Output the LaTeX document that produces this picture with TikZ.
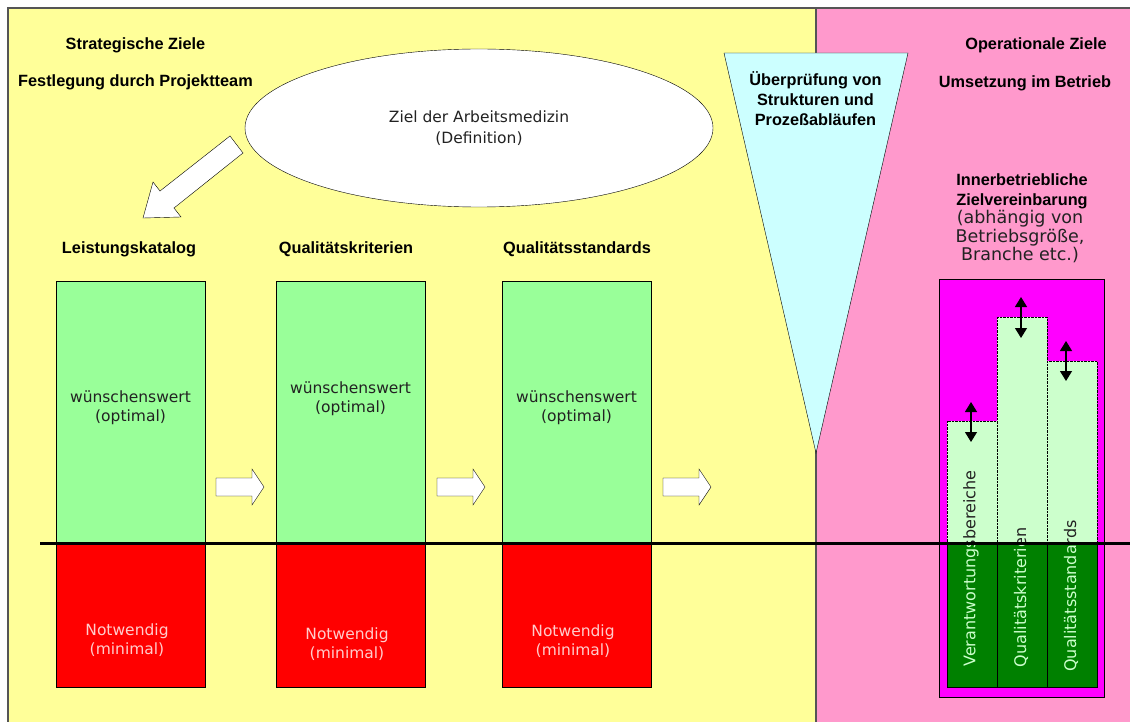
\documentclass[tikz,border=0pt]{standalone}
\usepackage{fontspec}
\setmainfont{DejaVu Sans}
\newfontfamily\headfont{Liberation Sans}
\usetikzlibrary{shapes.geometric}
\usetikzlibrary{arrows.meta}
\definecolor{panelyellow}{HTML}{FFFF99}
\definecolor{panelpink}{HTML}{FF99CC}
\definecolor{optgreen}{HTML}{99FF99}
\definecolor{minred}{HTML}{FF0000}
\definecolor{checkcyan}{HTML}{CCFFFF}
\definecolor{boxmagenta}{HTML}{FF00FF}
\definecolor{palegreen}{HTML}{CCFFCC}
\definecolor{deepgreen}{HTML}{008000}
\definecolor{framegray}{HTML}{555555}
\definecolor{darktext}{HTML}{222222}
\definecolor{pinktext}{HTML}{FFCCCC}
\tikzset{hd/.style = {font=\headfont\bfseries\fontsize{16.3}{20}\selectfont,
                      align=center, inner sep=0}}
\tikzset{txt/.style = {font=\fontsize{15.5}{19}\selectfont, align=center, inner sep=0}}
\tikzset{bigtxt/.style = {font=\fontsize{17.5}{18.5}\selectfont, align=center, inner sep=0}}
\tikzset{rottxt/.style = {font=\fontsize{16}{18}\selectfont, rotate=90, inner sep=0}}
\tikzset{blockarrow/.style = {draw=black, fill=white, line join=miter}}
\tikzset{dblarrow/.style = {{Triangle[width=12pt,length=10pt]}-{Triangle[width=12pt,length=10pt]},
                            line width=1.2pt}}

\begin{document}
\begin{tikzpicture}[x=1pt,y=-1pt]
        \useasboundingbox (0,0) rectangle (1130,722);
        % panels
        \draw[framegray, fill=panelyellow, line width=1.2pt] (8,8) rectangle (816,740);
        \draw[framegray, fill=panelpink, line width=1.2pt] (816,8) rectangle (1150,740);
        \node[hd] (strat) at (135.5,45) {Strategische Ziele};
        \node[hd] (festl) at (135.5,82) {Festlegung durch Projektteam};
        \node[hd] (oper) at (1036,45) {Operationale Ziele};
        \node[hd] (umsetz) at (1025,83) {Umsetzung im Betrieb};
        % definition and arrow down to the catalogue
        \node[draw, fill=white, ellipse, minimum width=468, minimum height=158,
              txt, font=\fontsize{15.5}{21}\selectfont, text=darktext]
              (ziel) at (479,128) {Ziel der Arbeitsmedizin\\(Definition)};
        \draw[blockarrow] (230,136) -- (160,191) -- (153,182) -- (143,218)
                          -- (181,217) -- (174,208) -- (243,153) -- cycle;
        % review triangle
        \draw[black, fill=checkcyan] (724,53) -- (908,53) -- (816,453) -- cycle;
        \node[hd] (pruef) at (815.5,99) {\"Uberpr\"ufung von\\Strukturen und\\Proze\ss abl\"aufen};
        % three columns
        \node[hd] (leist) at (129,249) {Leistungskatalog};
        \node[hd] (qkrit) at (346,249) {Qualit\"atskriterien};
        \node[hd] (qstan) at (577,249) {Qualit\"atsstandards};
        \foreach \xl/\gy/\ry/\nm in {56/408/640/a, 276/399/644/b, 502/408/641/c}{
            \draw[black, fill=optgreen] (\xl,281) rectangle ({\xl+149},543);
            \draw[black, fill=minred] (\xl,543) rectangle ({\xl+149},687);
            \node[txt, text=darktext] (opt\nm) at ({\xl+74.5},\gy) {w\"unschenswert\\(optimal)};
            \node[txt, text=pinktext] (min\nm) at ({\xl+71},\ry) {Notwendig\\(minimal)};
        }
        \foreach \x in {216,437,663}{
            \draw[blockarrow] (\x,478) -- ({\x+36},478) -- ({\x+36},469) -- ({\x+48},487)
                              -- ({\x+36},505) -- ({\x+36},496) -- (\x,496) -- cycle;
        }
        % operational agreement
        \node[hd] (inner) at (1022,191) {Innerbetriebliche\\Zielvereinbarung};
        \node[bigtxt, text=darktext] (abh) at (1020,237) {(abh\"angig von\\Betriebsgr\"o\ss e,\\Branche etc.)};
        \draw[black, fill=boxmagenta] (939,279) rectangle (1104,697);
        \draw[black, fill=palegreen, densely dotted] (947,421) rectangle (997,543);
        \draw[black, fill=palegreen, densely dotted] (997,317) rectangle (1047,543);
        \draw[black, fill=palegreen, densely dotted] (1047,361) rectangle (1097,543);
        \draw[black, fill=deepgreen] (947,543) rectangle (997,687);
        \draw[black, fill=deepgreen] (997,543) rectangle (1047,687);
        \draw[black, fill=deepgreen] (1047,543) rectangle (1097,687);
        \foreach \ya/\yb/\tc/\sf in {543/687/palegreen/l, 290/543/darktext/d}{
            \begin{scope}
                \clip (947,\ya) rectangle (1097,\yb);
                \node[rottxt, text=\tc] (verant\sf) at (971,568.5) {Verantwortungsbereiche};
                \node[rottxt, text=\tc] (krit\sf) at (1021,597.5) {Qualit\"atskriterien};
                \node[rottxt, text=\tc] (stan\sf) at (1071,596) {Qualit\"atsstandards};
            \end{scope}
        }
        \coordinate (v1t) at (971,402);
        \coordinate (v1b) at (971,442);
        \coordinate (v2t) at (1021,297);
        \coordinate (v2b) at (1021,338);
        \coordinate (v3t) at (1066,341);
        \coordinate (v3b) at (1066,381);
        \draw[dblarrow] (v1t) -- (v1b);
        \draw[dblarrow] (v2t) -- (v2b);
        \draw[dblarrow] (v3t) -- (v3b);
        % the dividing line
        \coordinate (lineL) at (40,543);
        \coordinate (lineR) at (1130,543);
        \draw[line width=3pt] (lineL) -- (lineR);
    \end{tikzpicture}
\end{document}
